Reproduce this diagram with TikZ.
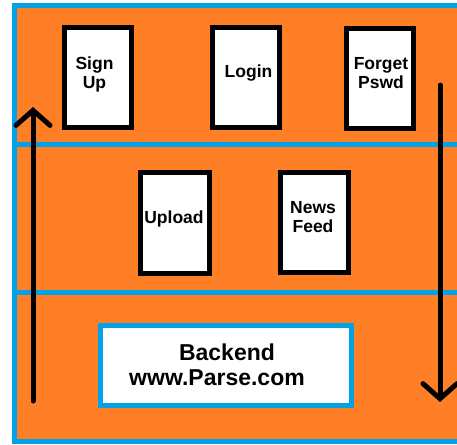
\documentclass[tikz,border=0pt]{standalone}
\usepackage{fontspec}
\setmainfont{Liberation Sans}
\usetikzlibrary{arrows.meta}
\definecolor{paintorange}{HTML}{FF7F27}
\definecolor{paintblue}{HTML}{00A2E8}

\begin{document}
\begin{tikzpicture}[x=1pt, y=-1pt,
  screen/.style={draw=black, fill=white, line width=5pt, minimum width=67pt,
    minimum height=100pt, inner sep=0pt},
  screentext/.style={align=center, inner sep=0pt, font=\bfseries\fontsize{17.5}{19}\selectfont},
  backendbox/.style={draw=paintblue, fill=white, line width=5pt, minimum width=251pt,
    minimum height=80pt, inner sep=0pt},
  backendtext/.style={align=center, inner sep=0pt, font=\bfseries\fontsize{23}{25}\selectfont},
  flow/.style={line width=5pt, line cap=round, -{Straight Barb[length=15pt, width=34pt, line cap=round]}}]
  \useasboundingbox (0,0) rectangle (457,444);
  % layers
  \fill[paintorange] (14.5,5.5) rectangle (475,441.5);
  \draw[paintblue, line width=5pt] (475,5.5) -- (14.5,5.5) -- (14.5,441.5) -- (475,441.5);
  \draw[paintblue, line width=4.5pt] (14.5,144.5) -- (475,144.5);
  \draw[paintblue, line width=4.5pt] (14.5,292.5) -- (475,292.5);
  % top layer
  \node[screen] (signup) at (98,77.5) {};
  \node[screen] (login) at (246,77.5) {};
  \node[screen] (forget) at (380,78.5) {};
  \node[screentext] (signuptext) at (94.5,74) {Sign\\Up};
  \node[screentext] (logintext) at (248.5,73) {Login};
  \node[screentext] (forgettext) at (381,73.5) {Forget\\Pswd};
  % middle layer
  \node[screen, minimum width=69pt, minimum height=101pt] (upload) at (175,223) {};
  \node[screen, minimum width=68pt] (newsfeed) at (314.5,222) {};
  \node[screentext] (uploadtext) at (174,218.5) {Upload};
  \node[screentext] (newsfeedtext) at (313,217) {News\\Feed};
  % bottom layer
  \node[backendbox] (backend) at (226,365.5) {};
  \node[backendtext] (backendtext) at (227,365) {Backend\\www.Parse.com\hspace*{20pt}};
  \coordinate (upstart) at (33,401);
  \coordinate (upend) at (33,107);
  \coordinate (downstart) at (440,85);
  \coordinate (downend) at (440,402);
  \draw[flow] (upstart) -- (upend);
  \draw[flow] (downstart) -- (downend);
\end{tikzpicture}
\end{document}
